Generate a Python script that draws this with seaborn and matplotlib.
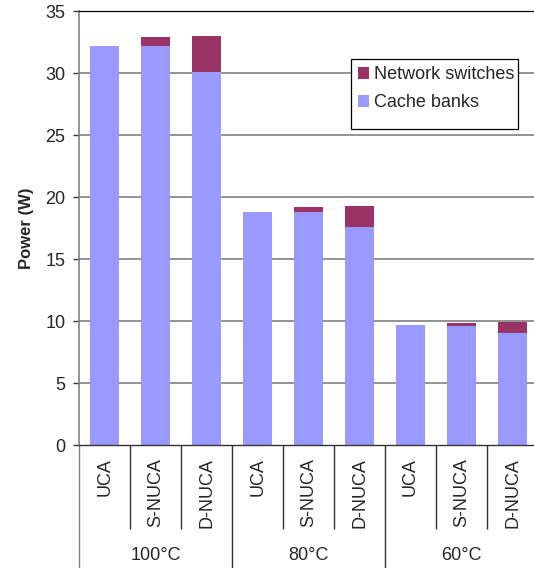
import matplotlib
matplotlib.use("Agg")
import matplotlib.pyplot as plt
import matplotlib.transforms as mtransforms
from matplotlib.patches import Rectangle
import seaborn as sns
import pandas as pd

# Power breakdown of the last-level cache for three cache organisations
# at three operating temperatures.
temperatures = ["100°C", "80°C", "60°C"]
designs = ["UCA", "S-NUCA", "D-NUCA"]
cache_banks = [32.2, 32.2, 30.1, 18.8, 18.8, 17.6, 9.7, 9.6, 9.05]
network_switches = [0.0, 0.7, 2.9, 0.0, 0.4, 1.7, 0.0, 0.25, 0.9]
y_ticks = [0, 5, 10, 15, 20, 25, 30, 35]

CACHE_COLOR = "#9999FF"
NET_COLOR = "#993366"

rows = []
for gi, temp in enumerate(temperatures):
    for di, design in enumerate(designs):
        i = gi * len(designs) + di
        rows.append({
            "key": f"{temp} {design}",
            "temp": temp,
            "design": design,
            "cache": cache_banks[i],
            "total": cache_banks[i] + network_switches[i],
        })
df = pd.DataFrame(rows)
order = list(df["key"])

sns.set_style("white")
plt.rcParams["font.family"] = ["Liberation Sans", "DejaVu Sans"]

W, H = 534, 568
fig = plt.figure(figsize=(W / 100, H / 100), dpi=100)
ax = fig.add_axes([79.3 / W, 123 / H, (538 - 79.3) / W, 434 / H])

# Stacked bars: the total height in the switch colour, cache banks drawn over it
sns.barplot(data=df, x="key", y="total", order=order, color=NET_COLOR,
            saturation=1, width=0.57, label="Network switches", ax=ax)
sns.barplot(data=df, x="key", y="cache", order=order, color=CACHE_COLOR,
            saturation=1, width=0.57, label="Cache banks", ax=ax)
for p in ax.patches:
    p.set_edgecolor("none")
    p.set_linewidth(0)

handles, labels = ax.get_legend_handles_labels()
if ax.get_legend() is not None:
    ax.get_legend().remove()

ax.set_ylim(0, 35)
ax.set_xlim(-0.5, len(order) - 0.5)
ax.set_yticks(y_ticks)
ax.set_yticklabels([str(t) for t in y_ticks], fontsize=13)
ax.set_xticks([])
ax.set_xlabel("")
ax.set_ylabel("Power (W)", fontsize=12, fontweight="bold", labelpad=8)

# Horizontal gridlines
for t in y_ticks[1:-1]:
    ax.axhline(t, color="#808080", lw=1.2, zorder=0)
ax.set_axisbelow(True)

ax.spines["right"].set_visible(False)
ax.spines["top"].set_color("black")
ax.spines["top"].set_linewidth(0.9)
ax.spines["left"].set_color("#808080")
ax.spines["left"].set_linewidth(1.2)
ax.spines["bottom"].set_color("#333333")
ax.spines["bottom"].set_linewidth(1.0)
ax.tick_params(axis="y", direction="out", length=4, width=1, color="#333333",
               pad=6, left=True)

# Two-level category axis: design names and temperature groups
trans = mtransforms.blended_transform_factory(ax.transData, ax.transAxes)
n = len(order)
for k in range(n + 1):
    x = k - 0.5
    if k % len(designs) == 0:
        y_end = -0.285
        col = "#808080" if k == 0 else "#333333"
    else:
        y_end = -0.193
        col = "#333333"
    ax.plot([x, x], [0, y_end], transform=trans, color=col, lw=1.0,
            clip_on=False, solid_capstyle="butt")

for i, key in enumerate(order):
    ax.text(i, -0.031, df.loc[i, "design"], transform=trans, rotation=90,
            ha="center", va="top", fontsize=13)

for gi, temp in enumerate(temperatures):
    ax.text(gi * len(designs) + 1, -0.2555, temp, transform=trans,
            ha="center", va="center", fontsize=13)

# Legend entries, with a plain rectangular frame around them
leg = fig.legend(handles, labels, loc="upper left",
                 bbox_to_anchor=(351 / W, 1 - 59 / H),
                 bbox_transform=fig.transFigure, borderaxespad=0,
                 fontsize=13, frameon=False, handlelength=0.62,
                 handleheight=0.62, handletextpad=0.25, labelspacing=0.62,
                 borderpad=0.4)
frame = Rectangle((351 / W, 1 - 129.3 / H), (518 - 351) / W, 70 / H,
                  transform=fig.transFigure, facecolor="white",
                  edgecolor="black", linewidth=0.9, zorder=2)
fig.patches.append(frame)
leg.set_zorder(3)

fig.savefig("out.png", dpi=100)
